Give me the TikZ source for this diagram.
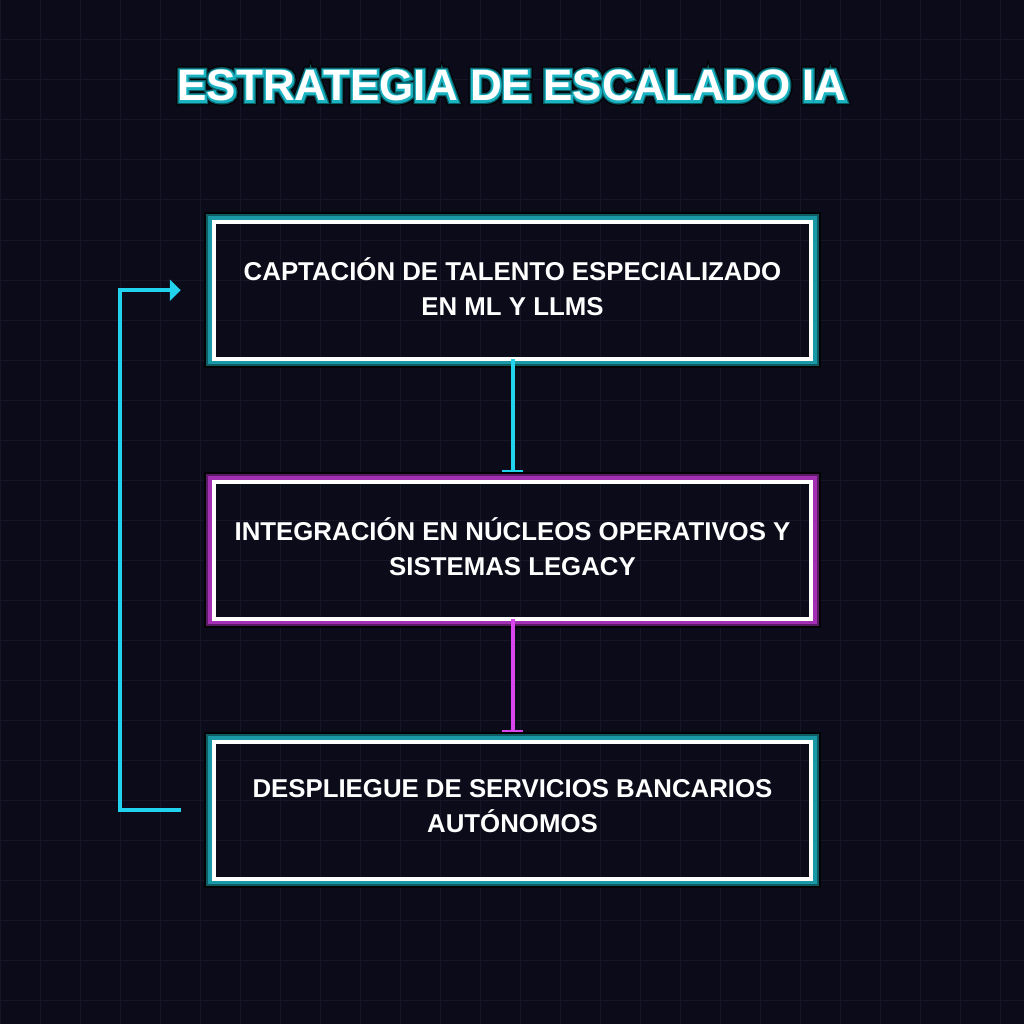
\documentclass[tikz,border=0pt]{standalone}
\usepackage{fontspec}
\setmainfont{Liberation Sans}
\newfontfamily\boxfont{Liberation Sans Bold}
\newfontfamily\titlefont{Liberation Sans Bold}
\newfontfamily\titleA{Liberation Sans Bold}[FakeBold=20]
\newfontfamily\titleB{Liberation Sans Bold}[FakeBold=14]
\newfontfamily\titleC{Liberation Sans Bold}[FakeBold=8]
\usetikzlibrary{arrows.meta}
\definecolor{bgc}{HTML}{0B0B1A}
\definecolor{gridc}{HTML}{171629}
\definecolor{cyanc}{HTML}{22D3EE}
\definecolor{cyanglow}{HTML}{1A98A6}
\definecolor{cyandark}{HTML}{0F5B63}
\definecolor{magc}{HTML}{D946EF}
\definecolor{magglow}{HTML}{A32FB3}
\definecolor{magdark}{HTML}{5B1A66}
\definecolor{glowblack}{HTML}{030306}
\definecolor{ttlcyan}{HTML}{19B3C2}
\definecolor{ttldark}{HTML}{0C5D66}
\tikzset{
  gridline/.style={draw=gridc, line width=1pt},
  stepbox/.style={draw=white, line width=4pt, minimum width=597.5pt, minimum height=137pt,
    inner sep=0pt, outer sep=0pt},
  steptext/.style={text=white, align=center, inner sep=0pt,
    font=\boxfont\fontsize{25.8}{35}\selectfont},
  conn/.style={line width=4pt, draw=#1, -{Bar[width=21pt,line width=2pt]}},
  loopconn/.style={line width=4pt, draw=cyanc, -{Triangle[length=11pt,width=21pt]}},
  ttl/.style={anchor=base, inner sep=0pt}
}
\newcommand\glowrect[3]{%
  \draw[line width=3.5pt, draw=#2] ([shift={(-3.75,-3.75)}]#1.north west) rectangle ([shift={(3.75,3.75)}]#1.south east);
  \draw[line width=2pt, draw=#3] ([shift={(-6.5,-6.5)}]#1.north west) rectangle ([shift={(6.5,6.5)}]#1.south east);
  \draw[line width=2pt, draw=glowblack] ([shift={(-8.5,-8.5)}]#1.north west) rectangle ([shift={(8.5,8.5)}]#1.south east);
}
\begin{document}
\begin{tikzpicture}[x=1pt,y=-1pt]
\useasboundingbox (0,0) rectangle (1024,1024);
\fill[bgc] (0,0) rectangle (1024,1024);
\foreach \i in {0,40,...,1000} {
  \draw[gridline] (\i,0) -- (\i,1024);
  \draw[gridline] (0,\i) -- (1024,\i);
}
% title
\node[ttl, text=glowblack, font=\titleA\fontsize{44}{48}\selectfont] (tA) at (512,101) {ESTRATEGIA DE ESCALADO IA};
\node[ttl, text=ttldark, font=\titleB\fontsize{44}{48}\selectfont] (tB) at (512,101) {ESTRATEGIA DE ESCALADO IA};
\node[ttl, text=ttlcyan, font=\titleC\fontsize{44}{48}\selectfont] (tC) at (512,101) {ESTRATEGIA DE ESCALADO IA};
\node[ttl, text=white, font=\titlefont\fontsize{44}{48}\selectfont] (title) at (512,101) {ESTRATEGIA DE ESCALADO IA};
% boxes
\node[stepbox] (b1) at (512.5,290.2) {};
\node[stepbox] (b2) at (512.5,550.2) {};
\node[stepbox] (b3) at (512.5,810.2) {};
\node[steptext] (b1t) at ([yshift=4pt]b1.center) {CAPTACIÓN DE TALENTO ESPECIALIZADO\\EN ML Y LLMS};
\node[steptext] (b2t) at ([yshift=4pt]b2.center) {INTEGRACIÓN EN NÚCLEOS OPERATIVOS Y\\SISTEMAS LEGACY};
\node[steptext] (b3t) at ([yshift=4pt]b3.center) {DESPLIEGUE DE SERVICIOS BANCARIOS\\AUTÓNOMOS};
\glowrect{b1}{cyanglow}{cyandark}
\glowrect{b2}{magglow}{magdark}
\glowrect{b3}{cyanglow}{cyandark}
% connectors
\draw[conn=cyanc] (b1.south) -- ([yshift=10pt]b2.north);
\draw[conn=magc] (b2.south) -- ([yshift=10pt]b3.north);
\draw[loopconn] ([xshift=-33pt]b3.west) -| ([xshift=-93.5pt]b1.west) -- ([xshift=-33pt]b1.west);
\end{tikzpicture}
\end{document}
